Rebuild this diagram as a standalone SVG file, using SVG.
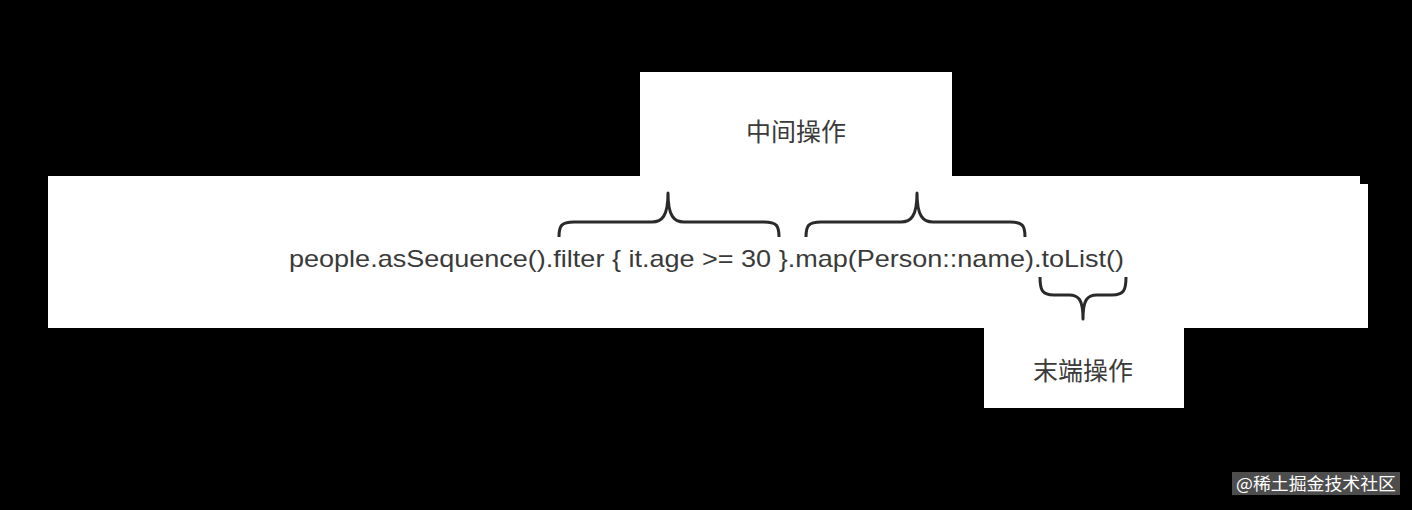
<svg xmlns="http://www.w3.org/2000/svg" width="1412" height="510" viewBox="0 0 1412 510">
  <style>
    .box { fill: #ffffff; }
    .code { font-family: "Liberation Sans", Arial, sans-serif; font-size: 24px; fill: #3a3a3a; }
    .label { font-family: "Noto Sans CJK SC", "Liberation Sans", sans-serif; font-size: 25px; fill: #3a3a3a; }
    .brace { fill: none; stroke: #2a2a2a; stroke-width: 3; stroke-linejoin: round; stroke-linecap: butt; }
    .wm { font-family: "Noto Sans CJK SC", sans-serif; font-size: 17px; fill: #ffffff; }
  </style>
  <rect x="0" y="0" width="1412" height="510" fill="#000000"/>

  <g id="code-line">
    <rect class="box" x="48" y="176" width="1312" height="152"/>
    <rect class="box" x="1000" y="184" width="368" height="144"/>
    <text class="code" x="289" y="267" textLength="835" lengthAdjust="spacingAndGlyphs">people.asSequence().filter { it.age &gt;= 30 }.map(Person::name).toList()</text>
  </g>

  <g id="intermediate">
    <rect class="box" x="640" y="72" width="312" height="104"/>
    <text class="label" x="796" y="141" text-anchor="middle">中间操作</text>
  </g>

  <g id="terminal">
    <rect class="box" x="984" y="327" width="200" height="81"/>
    <text class="label" x="1083" y="380" text-anchor="middle">末端操作</text>
  </g>

  <g id="connectors">
    <path class="brace" d="M559,237 C559,226 561,222 574,222 H652 C662,222 668,216 668,193 C668,216 674,222 684,222 H764 C777,222 779,226 779,237"/>
    <path class="brace" d="M806,237 C806,226 808,222 821,222 H901 C911,222 917,216 917,193 C917,216 923,222 933,222 H1010 C1023,222 1025,226 1025,237"/>
    <path class="brace" d="M1040,277 C1040,290 1042,295 1054,295 H1069 C1079,295 1083,300 1083,319 C1083,300 1087,295 1097,295 H1112 C1124,295 1126,290 1126,277"/>
  </g>

  <g id="watermark">
    <rect x="1232" y="472" width="168" height="23" fill="#5a5a5a" opacity="0.85"/>
    <text class="wm" x="1316" y="490" text-anchor="middle" textLength="160" lengthAdjust="spacingAndGlyphs">@稀土掘金技术社区</text>
  </g>
</svg>
